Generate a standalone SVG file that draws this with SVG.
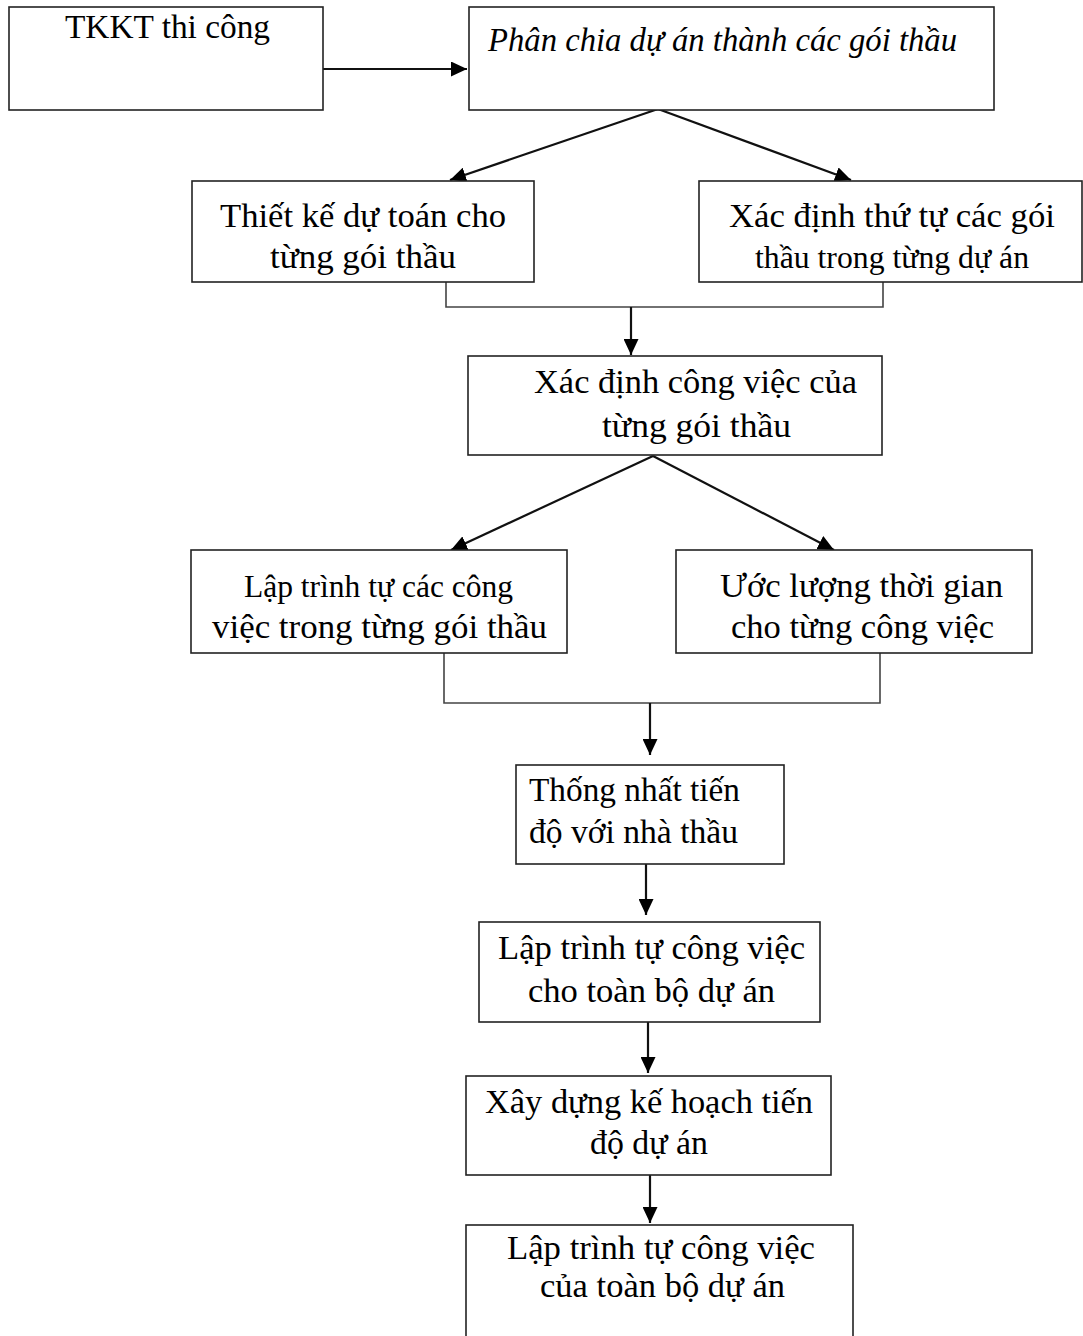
<svg xmlns="http://www.w3.org/2000/svg" width="1083" height="1336" viewBox="0 0 1083 1336">
<style>
.box{fill:#fff;stroke:#222;stroke-width:1.6}
.t{font-family:"Liberation Serif","Times New Roman",serif;font-size:33px;fill:#000}
.it{font-style:italic}
.sm{font-size:31px}
.ln{fill:none;stroke:#111;stroke-width:2.2}
.br{fill:none;stroke:#444;stroke-width:1.6}
</style>
<defs>
<marker id="ah" markerUnits="userSpaceOnUse" markerWidth="17" markerHeight="15" refX="16" refY="7.5" orient="auto">
<path d="M0,0 L16,7.5 L0,15 z" fill="#000"/>
</marker>
</defs>
<rect width="1083" height="1336" fill="#fff"/>
<g id="connectors">
<line class="ln" x1="323" y1="69" x2="467" y2="69" marker-end="url(#ah)"/>
<line class="ln" x1="658" y1="109" x2="450" y2="180" marker-end="url(#ah)"/>
<line class="ln" x1="658" y1="109" x2="851" y2="180" marker-end="url(#ah)"/>
<polyline class="br" points="446,282 446,307 883,307 883,282"/>
<line class="ln" x1="631" y1="307" x2="631" y2="355" marker-end="url(#ah)"/>
<line class="ln" x1="653" y1="456" x2="451" y2="550" marker-end="url(#ah)"/>
<line class="ln" x1="653" y1="456" x2="834" y2="550" marker-end="url(#ah)"/>
<polyline class="br" points="444,653 444,703 880,703 880,653"/>
<line class="ln" x1="650" y1="703" x2="650" y2="755" marker-end="url(#ah)"/>
<line class="ln" x1="646" y1="864" x2="646" y2="915" marker-end="url(#ah)"/>
<line class="ln" x1="648" y1="1022" x2="648" y2="1073" marker-end="url(#ah)"/>
<line class="ln" x1="650" y1="1175" x2="650" y2="1223" marker-end="url(#ah)"/>
</g>
<g id="n1">
<rect class="box" x="9" y="7" width="314" height="103"/>
<text class="t" x="65" y="38" textLength="205" lengthAdjust="spacingAndGlyphs">TKKT thi công</text>
</g>
<g id="n2">
<rect class="box" x="469" y="7" width="525" height="103"/>
<text class="t it" x="488" y="51" textLength="469" lengthAdjust="spacingAndGlyphs">Phân chia dự án thành các gói thầu</text>
</g>
<g id="n3">
<rect class="box" x="192" y="181" width="342" height="101"/>
<text class="t" x="220" y="227" textLength="286" lengthAdjust="spacingAndGlyphs">Thiết kế dự toán cho</text>
<text class="t" x="270" y="268" textLength="186" lengthAdjust="spacingAndGlyphs">từng gói thầu</text>
</g>
<g id="n4">
<rect class="box" x="699" y="181" width="383" height="101"/>
<text class="t" x="729" y="227" textLength="326" lengthAdjust="spacingAndGlyphs">Xác định thứ tự các gói</text>
<text class="t sm" x="755" y="268" textLength="274" lengthAdjust="spacingAndGlyphs">thầu  trong  từng  dự án</text>
</g>
<g id="n5">
<rect class="box" x="468" y="356" width="414" height="99"/>
<text class="t" x="534" y="393" textLength="323" lengthAdjust="spacingAndGlyphs">Xác định công việc của</text>
<text class="t" x="602" y="437" textLength="189" lengthAdjust="spacingAndGlyphs">từng gói thầu</text>
</g>
<g id="n6">
<rect class="box" x="191" y="550" width="376" height="103"/>
<text class="t sm" x="244" y="597" textLength="269" lengthAdjust="spacingAndGlyphs">Lập  trình  tự  các  công</text>
<text class="t" x="212" y="638" textLength="335" lengthAdjust="spacingAndGlyphs">việc trong từng gói thầu</text>
</g>
<g id="n7">
<rect class="box" x="676" y="550" width="356" height="103"/>
<text class="t" x="720" y="597" textLength="283" lengthAdjust="spacingAndGlyphs">Ước lượng thời gian</text>
<text class="t" x="731" y="638" textLength="263" lengthAdjust="spacingAndGlyphs">cho từng công việc</text>
</g>
<g id="n8">
<rect class="box" x="516" y="765" width="268" height="99"/>
<text class="t" x="529" y="801" textLength="211" lengthAdjust="spacingAndGlyphs">Thống nhất tiến</text>
<text class="t" x="529" y="843" textLength="209" lengthAdjust="spacingAndGlyphs">độ với nhà thầu</text>
</g>
<g id="n9">
<rect class="box" x="479" y="922" width="341" height="100"/>
<text class="t" x="498" y="959" textLength="307" lengthAdjust="spacingAndGlyphs">Lập trình tự công việc</text>
<text class="t" x="528" y="1002" textLength="247" lengthAdjust="spacingAndGlyphs">cho toàn bộ dự án</text>
</g>
<g id="n10">
<rect class="box" x="466" y="1076" width="365" height="99"/>
<text class="t" x="485" y="1113" textLength="328" lengthAdjust="spacingAndGlyphs">Xây dựng kế hoạch tiến</text>
<text class="t" x="590" y="1154" textLength="118" lengthAdjust="spacingAndGlyphs">độ dự án</text>
</g>
<g id="n11">
<rect class="box" x="466" y="1225" width="387" height="130"/>
<text class="t" x="507" y="1259" textLength="308" lengthAdjust="spacingAndGlyphs">Lập trình tự công việc</text>
<text class="t" x="540" y="1297" textLength="245" lengthAdjust="spacingAndGlyphs">của toàn bộ dự án</text>
</g>
</svg>
